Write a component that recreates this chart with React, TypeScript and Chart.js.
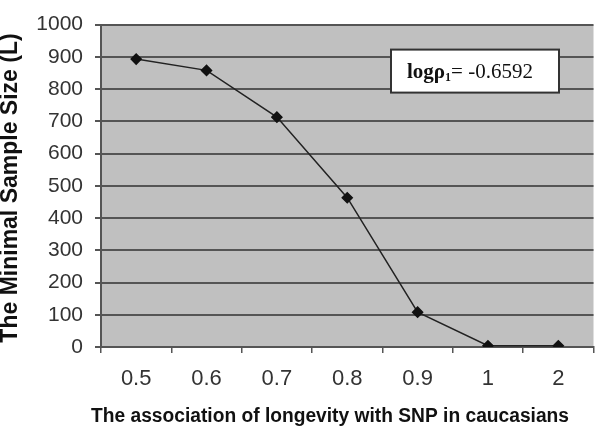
import React, { useEffect, useRef } from 'react';
import { Chart, registerables } from 'chart.js';

Chart.register(...registerables);

const categories = ['0.5', '0.6', '0.7', '0.8', '0.9', '1', '2'];
const sampleSize = [893, 858, 713, 463, 108, 4, 4];
const yMin = 0;
const yMax = 1000;
const yStep = 100;
const xTitle = 'The association of longevity with SNP in caucasians';
const yTitle = 'The Minimal Sample Size (L)';
const noteMain = 'logρ';
const noteSub = '1';
const noteValue = '= -0.6592';

const SANS = '"Liberation Sans", Arial, sans-serif';
const SERIF = '"Liberation Serif", "Times New Roman", serif';

const plotBg = {
  id: 'plotBg',
  beforeDraw(chart: any) {
    const { ctx, chartArea: a } = chart;
    ctx.save();
    ctx.fillStyle = '#c0c0c0';
    ctx.fillRect(a.left, a.top, a.right - a.left, a.bottom - a.top);
    ctx.restore();
  },
};

const titles = {
  id: 'titles',
  afterDraw(chart: any) {
    const { ctx } = chart;
    ctx.save();
    ctx.fillStyle = '#111111';
    ctx.textAlign = 'center';
    ctx.textBaseline = 'middle';
    ctx.font = `bold 20px ${SANS}`;
    ctx.save();
    ctx.translate(330, 416);
    ctx.scale(0.96, 1);
    ctx.fillText(xTitle, 0, 0);
    ctx.restore();
    ctx.save();
    ctx.translate(11, 188);
    ctx.rotate(-Math.PI / 2);
    ctx.font = `bold 23px ${SANS}`;
    ctx.fillText(yTitle, 0, 0);
    ctx.restore();
    ctx.restore();
  },
};

const noteBox = {
  id: 'noteBox',
  afterDatasetsDraw(chart: any) {
    const { ctx, chartArea: a } = chart;
    const x = a.left + 290;
    const y = a.top + 25;
    const w = 168;
    const h = 43;
    ctx.save();
    ctx.fillStyle = '#ffffff';
    ctx.fillRect(x, y, w, h);
    ctx.strokeStyle = '#333333';
    ctx.lineWidth = 2;
    ctx.strokeRect(x, y, w, h);
    ctx.fillStyle = '#111111';
    ctx.textBaseline = 'alphabetic';
    ctx.textAlign = 'left';
    let tx = x + 16;
    const by = y + 28;
    ctx.font = `bold 21px ${SERIF}`;
    ctx.fillText(noteMain, tx, by);
    tx += ctx.measureText(noteMain).width;
    ctx.font = `bold 12px ${SERIF}`;
    ctx.fillText(noteSub, tx, by + 3);
    tx += ctx.measureText(noteSub).width;
    ctx.font = `21px ${SERIF}`;
    ctx.fillText(noteValue, tx, by);
    ctx.restore();
  },
};

export default function App() {
  const ref = useRef<HTMLCanvasElement>(null);
  useEffect(() => {
    if (!ref.current) return;
    const chart = new Chart(ref.current, {
      type: 'line',
      data: {
        labels: categories,
        datasets: [
          {
            data: sampleSize,
            borderColor: '#222222',
            borderWidth: 1.5,
            pointStyle: 'rectRot',
            pointRadius: 5,
            pointBackgroundColor: '#111111',
            pointBorderColor: '#111111',
            tension: 0,
          },
        ],
      },
      options: {
        responsive: false,
        animation: false,
        events: [],
        layout: { padding: { top: 10, right: 2, bottom: 0, left: 0 } },
        plugins: { legend: { display: false }, tooltip: { enabled: false } },
        scales: {
          x: {
            type: 'category',
            offset: true,
            afterFit: (s: any) => {
              s.height = 82;
            },
            grid: {
              offset: true,
              drawOnChartArea: false,
              drawTicks: true,
              tickLength: 6,
              color: '#555555',
              lineWidth: 1.5,
            },
            border: { display: true, color: '#555555', width: 2 },
            ticks: {
              color: '#333333',
              font: { family: SANS, size: 22 },
              padding: 13,
              maxRotation: 0,
            },
          },
          y: {
            min: yMin,
            max: yMax,
            afterFit: (s: any) => {
              s.width = 101;
            },
            ticks: {
              stepSize: yStep,
              color: '#333333',
              font: { family: SANS, size: 21 },
              padding: 12,
              callback: (v: any) => String(v),
            },
            grid: {
              color: '#555555',
              lineWidth: 2,
              drawTicks: true,
              tickLength: 6,
            },
            border: { display: true, color: '#555555', width: 2 },
          },
        },
      },
      plugins: [plotBg, noteBox, titles],
    });
    return () => chart.destroy();
  }, []);
  return (
    <div style={{ position: 'fixed', left: 0, top: 0, width: 600, height: 429, background: '#ffffff' }}>
      <canvas ref={ref} width={600} height={429} style={{ display: 'block' }} />
    </div>
  );
}
